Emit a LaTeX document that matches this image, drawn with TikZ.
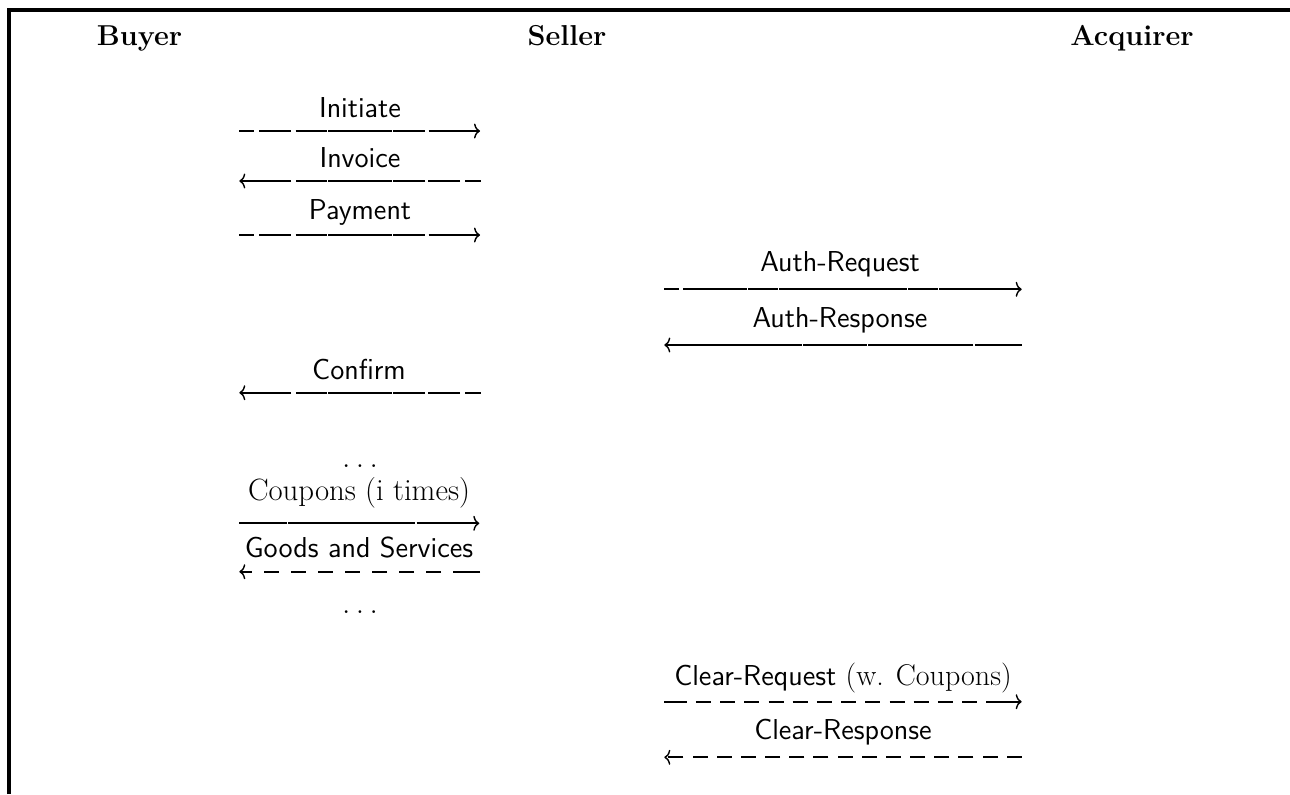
\documentclass[tikz,border=0pt]{standalone}
\usetikzlibrary{arrows.meta}
\begin{document}
\begin{tikzpicture}[x=0.5pt,y=-0.5pt,
  hdr/.style={anchor=base,inner sep=0pt,font=\Large\bfseries},
  lbl/.style={anchor=base,inner sep=0pt,font=\Large\sffamily},
  dotsty/.style={anchor=base,inner sep=0pt,font=\Large},
  msg/.style={line width=1pt,-{Computer Modern Rightarrow[length=3pt,width=7.5pt,line width=0.7pt]}},
  patA/.style={dash pattern=on 7.4pt off 2.6pt on 15.8pt off 2.4pt on 15.5pt off 0.8pt on 31.7pt off 0.8pt on 15.9pt off 1.7pt on 60pt off 0pt},
  patB/.style={dash pattern=on 7.85pt off 2.5pt on 15.85pt off 1.65pt on 15.85pt off 0.8pt on 31.7pt off 0.8pt on 15.5pt off 2.35pt on 60pt off 0pt},
  patAR/.style={dash pattern=on 7.35pt off 2.15pt on 31.7pt off 0.8pt on 14.7pt off 0.65pt on 63.85pt off 0.8pt on 14.7pt off 0.8pt on 80pt off 0pt},
  patARs/.style={dash pattern=on 23.35pt off 0.85pt on 52.5pt off 0.8pt on 31.7pt off 0.8pt on 100pt off 0pt},
  patC/.style={dash pattern=on 23.7pt off 0.8pt on 63.35pt off 0.85pt on 60pt off 0pt},
  patG/.style={dash pattern=on 13.35pt off 6.05pt on 7.5pt off 6.05pt on 7.5pt off 6.05pt on 7.5pt off 6.05pt on 7.5pt off 6.05pt on 7.5pt off 6.05pt on 7.5pt off 6.05pt on 7.5pt off 6.05pt on 40pt off 0pt},
  patCR/.style={dash pattern=on 11.2pt off 4.6pt on 7.5pt off 4.6pt on 7.5pt off 4.6pt on 7.5pt off 4.6pt on 7.5pt off 4.6pt on 7.5pt off 4.6pt on 7.5pt off 4.6pt on 7.5pt off 4.6pt on 7.5pt off 4.6pt on 7.5pt off 4.6pt on 7.5pt off 4.6pt on 7.5pt off 4.6pt on 7.5pt off 4.6pt on 40pt off 0pt},
  patCS/.style={dash pattern=on 7.5pt off 4.58pt},
]
\useasboundingbox (0,0) rectangle (1290,794);
\draw[line width=1.65pt] (9,794) -- (9,10) -- (1290,10);

% headers
\node[hdr] (buyer) at (139.5,45) {Buyer};
\node[hdr] (seller) at (567,45) {Seller};
\node[hdr] (acquirer) at (1132,45) {Acquirer};

% Initiate
\coordinate (iniL) at (239.3,131); \coordinate (iniR) at (480,131);
\node[lbl] (ini) at (360,117) {Initiate};
\draw[msg,patA] (iniL) -- (iniR);

% Invoice
\coordinate (invL) at (239.3,181); \coordinate (invR) at (480.7,181);
\node[lbl] (inv) at (360,167) {Invoice};
\draw[msg,patB] (invR) -- (invL);

% Payment
\coordinate (payL) at (239.3,235); \coordinate (payR) at (480,235);
\node[lbl] (pay) at (360,219) {Payment};
\draw[msg,patA] (payL) -- (payR);

% Auth-Request
\coordinate (arqL) at (664.3,289.3); \coordinate (arqR) at (1021.7,289.3);
\node[lbl] (arq) at (840,271) {Auth-Request};
\draw[msg,patAR] (arqL) -- (arqR);

% Auth-Response
\coordinate (arsL) at (664.3,345); \coordinate (arsR) at (1021.7,345);
\node[lbl] (ars) at (840,327) {Auth-Response};
\draw[msg,patARs] (arsR) -- (arsL);

% Confirm
\coordinate (cnfL) at (239.3,392.7); \coordinate (cnfR) at (480.7,392.7);
\node[lbl] (cnf) at (359,379) {Confirm};
\draw[msg,patB] (cnfR) -- (cnfL);

% dots
\node[dotsty] (dots1) at (360,467) {.\hspace{3pt}.\hspace{3pt}.};

% Coupons
\coordinate (cpnL) at (239.3,523.3); \coordinate (cpnR) at (479.3,523.3);
\node[anchor=base,inner sep=0pt,font=\fontsize{15.4}{18}\selectfont] (cpn) at (359,500) {Coupons (i times)};
\draw[msg,patC] (cpnL) -- (cpnR);

% Goods and Services
\coordinate (gdsL) at (239.3,571.7); \coordinate (gdsR) at (480,571.7);
\node[lbl] (gds) at (359,557.5) {Goods and Services};
\draw[msg,patG] (gdsR) -- (gdsL);

\node[dotsty] (dots2) at (360,613) {.\hspace{3pt}.\hspace{3pt}.};

% Clear-Request
\coordinate (crqL) at (664.3,701.7); \coordinate (crqR) at (1021.7,701.7);
\node[lbl] (crq) at (843,685.5) {Clear-Request {\rmfamily\fontsize{15}{18}\selectfont (w. Coupons)}};
\draw[msg,patCR] (crqL) -- (crqR);

% Clear-Response
\coordinate (crsL) at (664.3,757.3); \coordinate (crsR) at (1021.7,757.3);
\node[lbl] (crs) at (843,739.5) {Clear-Response};
\draw[msg,patCS] (crsR) -- (crsL);
\end{tikzpicture}
\end{document}
